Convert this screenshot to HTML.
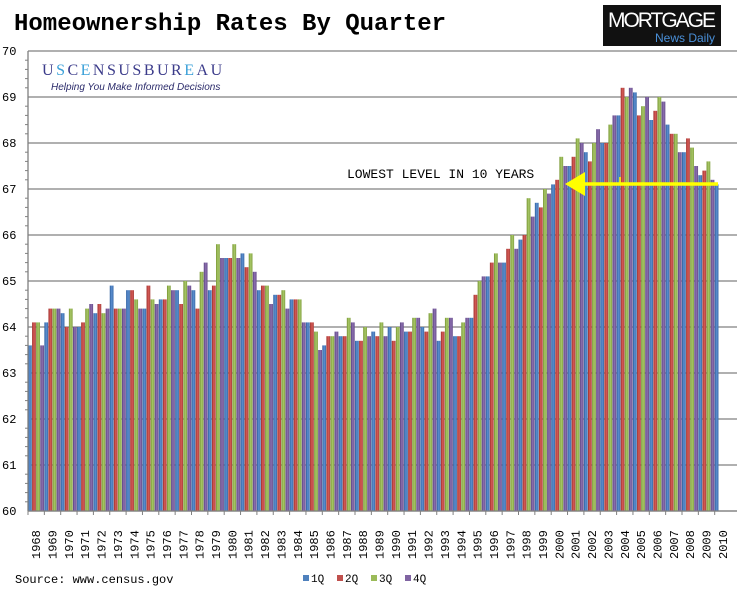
<!DOCTYPE html>
<html><head><meta charset="utf-8"><style>
body{margin:0;background:#fff;width:738px;height:591px;overflow:hidden;font-family:"Liberation Mono",monospace}
svg text{font-family:"Liberation Mono",monospace}
</style></head><body>
<svg id="chart" width="738" height="591" viewBox="0 0 738 591" xmlns="http://www.w3.org/2000/svg">
<defs>
<linearGradient id="gb" x1="0" x2="1"><stop offset="0" stop-color="#2f5f9e"/><stop offset=".5" stop-color="#5b8fd0"/><stop offset="1" stop-color="#3a6aa8"/></linearGradient>
<linearGradient id="gr" x1="0" x2="1"><stop offset="0" stop-color="#9e2f2c"/><stop offset=".5" stop-color="#d65a56"/><stop offset="1" stop-color="#a8403c"/></linearGradient>
<linearGradient id="gg" x1="0" x2="1"><stop offset="0" stop-color="#76942f"/><stop offset=".5" stop-color="#a8c868"/><stop offset="1" stop-color="#82a040"/></linearGradient>
<linearGradient id="gp" x1="0" x2="1"><stop offset="0" stop-color="#5b4280"/><stop offset=".5" stop-color="#8c70b0"/><stop offset="1" stop-color="#664c8a"/></linearGradient>
</defs>
<text x="14" y="30" font-size="24" font-weight="bold" fill="#000">Homeownership Rates By Quarter</text>
<g>
<rect x="603" y="5" width="118" height="41" fill="#111"/>
<text x="662" y="27" text-anchor="middle" font-size="21" fill="#fff" textLength="108" style="font-family:'Liberation Sans',sans-serif">MORTGAGE</text>
<text x="715" y="42" text-anchor="end" font-size="12" fill="#4a90d9" style="font-family:'Liberation Sans',sans-serif">News Daily</text>
</g>
<g id="grid"></g>
<g id="bars"></g>
<g id="axes"></g>
<g>
<text x="42" y="75" font-size="16" fill="#3b3b8a" letter-spacing="2.5" style="font-family:'Liberation Serif',serif">U<tspan fill="#3aa0d8">S</tspan>C<tspan fill="#3aa0d8">E</tspan>NSUSBUR<tspan fill="#3aa0d8">E</tspan>AU</text>
<text x="51" y="90" font-size="10" font-style="italic" fill="#2a2a6a" style="font-family:'Liberation Sans',sans-serif">Helping You Make Informed Decisions</text>
</g>
<g>
<text x="347" y="178" font-size="13" fill="#000">LOWEST LEVEL IN 10 YEARS</text>
<line x1="580" y1="184" x2="718" y2="184" stroke="#ffff00" stroke-width="3.5"/>
<line x1="620" y1="177" x2="620" y2="184" stroke="#ffff00" stroke-width="1.5"/>
<polygon points="565,184 585,172 585,196" fill="#ffff00"/>
</g>
<text x="15" y="583" font-size="12" fill="#000">Source: www.census.gov</text>
<g id="legend"></g>
</svg>
<script>
const years = [];
for (let y = 1968; y <= 2010; y++) years.push(String(y));
const series = ["1Q","2Q","3Q","4Q"];
const q1 = [63.6,64.1,64.3,64.0,64.3,64.9,64.8,64.4,64.6,64.8,64.8,64.8,65.5,65.6,64.8,64.7,64.6,64.1,63.6,63.8,63.7,63.9,64.0,63.9,64.0,63.7,63.8,64.2,65.1,65.4,65.9,66.7,67.1,67.5,67.8,68.0,68.6,69.1,68.5,68.4,67.8,67.3,67.1];
const q2 = [64.1,64.4,64.0,64.1,64.5,64.4,64.8,64.9,64.6,64.5,64.4,64.9,65.5,65.3,64.9,64.7,64.6,64.1,63.8,63.8,63.7,63.8,63.7,63.9,63.9,63.9,63.8,64.7,65.4,65.7,66.0,66.6,67.2,67.7,67.6,68.0,69.2,68.6,68.7,68.2,68.1,67.4,null];
const q3 = [64.1,64.4,64.4,64.4,64.3,64.4,64.6,64.6,64.9,65.0,65.2,65.8,65.8,65.6,64.9,64.8,64.6,63.9,63.8,64.2,64.0,64.1,64.0,64.2,64.3,64.2,64.1,65.0,65.6,66.0,66.8,67.0,67.7,68.1,68.0,68.4,69.0,68.8,69.0,68.2,67.9,67.6,null];
const q4 = [63.6,64.4,64.0,64.5,64.4,64.4,64.4,64.5,64.8,64.9,65.4,65.5,65.5,65.2,64.5,64.4,64.1,63.5,63.9,64.1,63.8,63.8,64.1,64.2,64.4,64.2,64.2,65.1,65.4,65.7,66.4,66.9,67.5,68.0,68.3,68.6,69.2,69.0,68.9,67.8,67.5,67.2,null];
const yTicks = [60,61,62,63,64,65,66,67,68,69,70];
const colors = ["url(#gb)","url(#gr)","url(#gg)","url(#gp)"];
const legendColors = ["#4f81bd","#c0504d","#9bbb59","#8064a2"];
const NS = "http://www.w3.org/2000/svg";
const X0 = 28, Y0 = 511, Y1 = 51;
const catW = 16.35;
const yScale = v => Y0 - (v - 60) / 10 * (Y0 - Y1);
const xScale = (i, s) => X0 + i * catW + s * catW / 4;
function mk(tag, attrs, parent){const e=document.createElementNS(NS,tag);for(const k in attrs)e.setAttribute(k,attrs[k]);parent.appendChild(e);return e;}
const grid = document.getElementById('grid'), bars = document.getElementById('bars'), axes = document.getElementById('axes'), legend = document.getElementById('legend');
yTicks.forEach(t => {
  const y = yScale(t);
  const l = mk('line',{x1:X0,x2:737,y1:y,y2:y,stroke:'#808080','stroke-width':1.3},grid);
  
  
  const tx = mk('text',{x:2,y:y+4,'font-size':12,fill:'#000'},axes);
  tx.textContent = t;
  
  
  if (t < 70) for (let m = 1; m < 5; m++) {
    const ym = yScale(t + m*0.2);
    mk('line',{x1:X0-3,x2:X0,y1:ym,y2:ym,stroke:'#808080'},axes);
  }
});
[q1,q2,q3,q4].forEach((arr, s) => {
  arr.forEach((v, i) => {
    if (v === null) return;
    const r = mk('rect',{x:xScale(i,s),y:yScale(v),width:catW/4-0.3,height:Y0-yScale(v),fill:colors[s]},bars);
    
    
  });
});
mk('line',{x1:X0,x2:X0,y1:Y1,y2:Y0,stroke:'#808080','stroke-width':1.3},axes);
mk('line',{x1:X0,x2:737,y1:Y0,y2:Y0,stroke:'#808080','stroke-width':1.3},axes);
years.forEach((yr, i) => {
  const cx = X0 + (i + 0.5) * catW;
  mk('line',{x1:X0+i*catW,x2:X0+i*catW,y1:Y0,y2:Y0+4,stroke:'#808080'},axes);
  const t = mk('text',{x:0,y:0,'font-size':12,fill:'#000',transform:`translate(${cx+4},559) rotate(-90)`},axes);
  t.textContent = yr;
  
  
});
series.forEach((s, k) => {
  const lx = 303 + k*34;
  const r = mk('rect',{x:lx,y:575,width:6,height:6,fill:legendColors[k]},legend);
  
  
  const t = mk('text',{x:lx+8,y:582,'font-size':11,fill:'#000'},legend);
  t.textContent = s;
  
  
});
</script>
</body></html>
